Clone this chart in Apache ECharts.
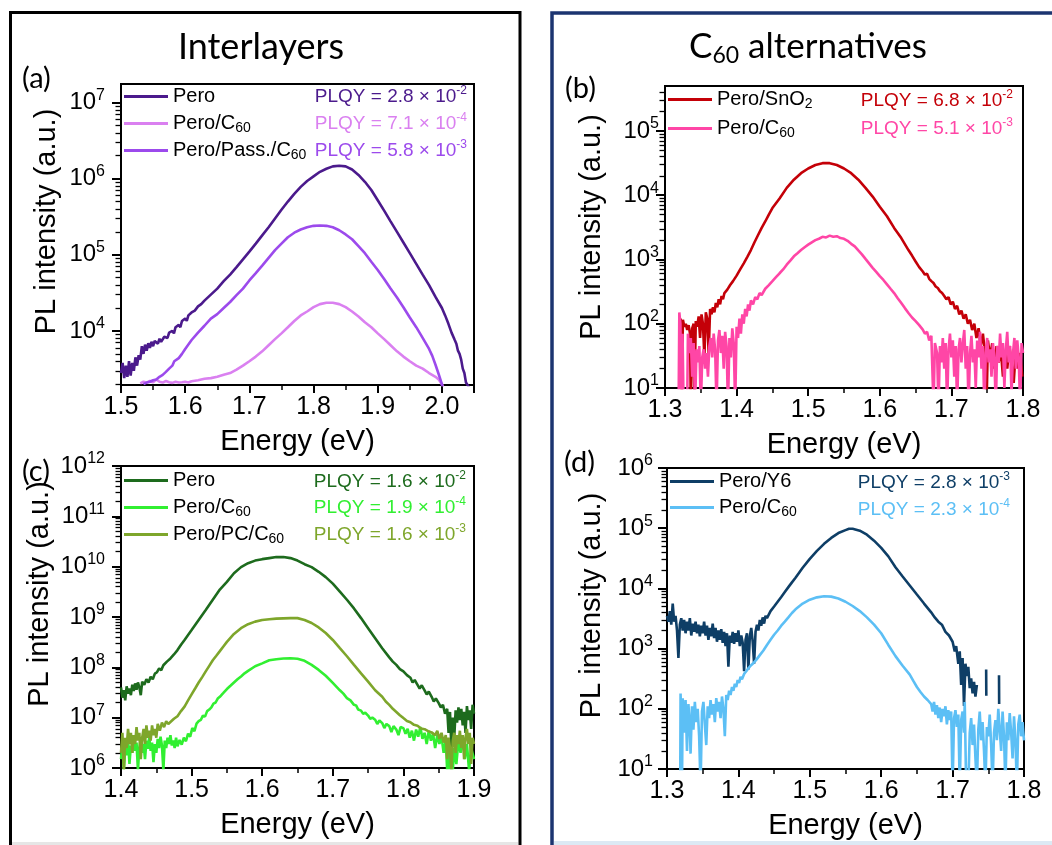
<!DOCTYPE html>
<html>
<head>
<meta charset="utf-8">
<script src="https://cdn.jsdelivr.net/npm/echarts@6.0.0/dist/echarts.min.js"></script>
<style>
  html, body { margin: 0; padding: 0; background: #fff; }
  #chart { width: 1052px; height: 845px; }
</style>
</head>
<body>
<div id="chart"></div>
<script>
// ---- tick values ----
var xTicksA = [1.5, 1.6, 1.7, 1.8, 1.9, 2.0];
var xTicksB = [1.3, 1.4, 1.5, 1.6, 1.7, 1.8];
var xTicksC = [1.4, 1.5, 1.6, 1.7, 1.8, 1.9];
var yTicksA = [1e4, 1e5, 1e6, 1e7];
var yTicksB = [1e1, 1e2, 1e3, 1e4, 1e5];
var yTicksC = [1e6, 1e7, 1e8, 1e9, 1e10, 1e11, 1e12];
var yTicksD = [1e1, 1e2, 1e3, 1e4, 1e5, 1e6];

// ---- (a) Interlayers ----
var aPero = [[1.500,2.8e3],[1.5025,3.8e3],[1.505,2.4e3],[1.5075,3.5e3],[1.510,2.5e3],[1.5125,4.0e3],[1.515,2.6e3],[1.5175,3.8e3],[1.520,3.0e3],[1.5225,4.5e3],[1.525,3.5e3],[1.5275,4.8e3],[1.530,4.2e3],[1.5325,6.3e3],[1.535,5.0e3],[1.5375,6.6e3],[1.540,5.5e3],[1.5425,6.9e3],[1.545,6.0e3],[1.5475,7.2e3],[1.550,6.3e3],[1.5525,7.4e3],[1.555,7.6e3],[1.5575,6.8e3],[1.560,7.9e3],[1.5625,7.2e3],[1.565,7.4e3],[1.5675,8.4e3],[1.570,8.9e3],[1.5725,8.1e3],[1.575,9.5e3],[1.5775,9.0e3],[1.580,1.0e4],[1.5825,9.3e3],[1.585,1.12e4],[1.5875,1.06e4],[1.590,1.2e4],[1.5925,1.12e4],[1.595,1.35e4],[1.5975,1.3e4],[1.600,1.45e4],[1.6025,1.36e4],[1.605,1.6e4],[1.6075,1.55e4],[1.610,1.75e4],[1.615,1.85e4],[1.620,2.1e4],[1.625,2.25e4],[1.630,2.5e4],[1.640,3.0e4],[1.650,3.6e4],[1.660,4.5e4],[1.670,5.5e4],[1.680,6.9e4],[1.690,8.7e4],[1.700,1.1e5],[1.710,1.4e5],[1.720,1.8e5],[1.730,2.3e5],[1.740,3.0e5],[1.750,3.9e5],[1.760,5.0e5],[1.770,6.3e5],[1.780,7.8e5],[1.790,9.3e5],[1.800,1.07e6],[1.810,1.23e6],[1.820,1.35e6],[1.830,1.45e6],[1.840,1.48e6],[1.850,1.45e6],[1.860,1.32e6],[1.870,1.12e6],[1.880,9.1e5],[1.890,7.1e5],[1.900,5.2e5],[1.910,3.8e5],[1.920,2.75e5],[1.930,2.0e5],[1.940,1.45e5],[1.950,1.05e5],[1.960,7.6e4],[1.970,5.5e4],[1.980,4.0e4],[1.990,2.8e4],[2.000,2.0e4],[2.005,1.6e4],[2.010,1.25e4],[2.015,9.5e3],[2.020,7.6e3],[2.0225,6.8e3],[2.025,5.5e3],[2.0275,5.0e3],[2.030,4.2e3],[2.0325,3.2e3],[2.035,2.8e3],[2.0375,2.1e3],[2.040,2.2e3],[2.0425,1.8e3],[2.045,1.5e3]];
var aPeroC60 = [[1.530,2.05e3],[1.535,2.15e3],[1.540,2.1e3],[1.545,2.2e3],[1.550,2.12e3],[1.555,2.3e3],[1.560,2.15e3],[1.565,2.1e3],[1.570,2.2e3],[1.575,2.12e3],[1.580,2.08e3],[1.585,2.15e3],[1.590,2.1e3],[1.595,2.12e3],[1.600,2.15e3],[1.605,2.1e3],[1.610,2.18e3],[1.620,2.25e3],[1.630,2.35e3],[1.640,2.4e3],[1.650,2.5e3],[1.660,2.65e3],[1.670,2.8e3],[1.680,3.1e3],[1.690,3.5e3],[1.700,4.0e3],[1.710,4.6e3],[1.720,5.4e3],[1.730,6.5e3],[1.740,7.8e3],[1.750,9.3e3],[1.760,1.12e4],[1.770,1.35e4],[1.780,1.6e4],[1.790,1.8e4],[1.800,2.05e4],[1.810,2.25e4],[1.820,2.35e4],[1.830,2.35e4],[1.840,2.25e4],[1.850,2.05e4],[1.860,1.8e4],[1.870,1.55e4],[1.880,1.3e4],[1.890,1.12e4],[1.900,9.3e3],[1.910,7.8e3],[1.920,6.5e3],[1.930,5.4e3],[1.940,4.6e3],[1.950,4.0e3],[1.960,3.5e3],[1.970,3.2e3],[1.980,2.8e3],[1.990,2.5e3],[1.995,2.3e3],[2.000,2.0e3],[2.003,1.7e3]];
var aPeroPassC60 = [[1.535,2.0e3],[1.540,2.1e3],[1.545,2.15e3],[1.550,2.25e3],[1.555,2.3e3],[1.560,2.5e3],[1.565,2.65e3],[1.570,2.9e3],[1.575,3.2e3],[1.580,3.5e3],[1.583,4.0e3],[1.585,3.8e3],[1.590,4.4e3],[1.595,5.0e3],[1.600,5.8e3],[1.610,7.6e3],[1.620,9.5e3],[1.630,1.17e4],[1.640,1.45e4],[1.650,1.66e4],[1.660,2.0e4],[1.670,2.4e4],[1.680,2.95e4],[1.690,3.6e4],[1.700,4.6e4],[1.710,5.75e4],[1.720,7.2e4],[1.730,9.1e4],[1.740,1.15e5],[1.750,1.4e5],[1.760,1.7e5],[1.770,1.95e5],[1.780,2.15e5],[1.790,2.3e5],[1.800,2.4e5],[1.810,2.43e5],[1.820,2.4e5],[1.830,2.3e5],[1.840,2.1e5],[1.850,1.85e5],[1.860,1.6e5],[1.870,1.3e5],[1.880,1.05e5],[1.890,8.1e4],[1.900,6.3e4],[1.910,4.8e4],[1.920,3.6e4],[1.930,2.75e4],[1.940,2.05e4],[1.950,1.5e4],[1.960,1.12e4],[1.970,8.1e3],[1.980,5.8e3],[1.985,4.7e3],[1.990,3.6e3],[1.995,2.7e3],[2.000,2.0e3],[2.002,1.6e3]];

// ---- (b) C60 alternatives ----
var bPeroSnO2 = [[1.322,120],[1.3235,6],[1.325,115],[1.327,90],[1.329,100],[1.331,80],[1.333,95],[1.335,70],[1.336,6],[1.338,85],[1.340,100],[1.341,6],[1.343,110],[1.345,90],[1.347,130],[1.349,60],[1.351,140],[1.353,100],[1.355,30],[1.357,150],[1.359,120],[1.361,35],[1.363,170],[1.365,140],[1.367,180],[1.369,150],[1.371,210],[1.373,180],[1.375,240],[1.377,200],[1.379,270],[1.381,240],[1.383,300],[1.385,280],[1.387,340],[1.389,320],[1.391,400],[1.393,380],[1.395,460],[1.397,440],[1.400,560],[1.405,700],[1.410,870],[1.415,1.1e3],[1.420,1.4e3],[1.425,1.85e3],[1.430,2.4e3],[1.435,3.1e3],[1.440,3.9e3],[1.445,5.0e3],[1.450,6.3e3],[1.455,7.5e3],[1.460,8.9e3],[1.470,1.3e4],[1.480,1.74e4],[1.490,2.2e4],[1.500,2.6e4],[1.510,2.95e4],[1.520,3.15e4],[1.530,3.15e4],[1.540,2.95e4],[1.550,2.6e4],[1.560,2.2e4],[1.570,1.74e4],[1.580,1.3e4],[1.590,9.5e3],[1.600,6.6e3],[1.610,4.7e3],[1.620,3.1e3],[1.630,2.15e3],[1.640,1.4e3],[1.645,1.15e3],[1.650,930],[1.655,760],[1.660,650],[1.663,580],[1.666,600],[1.669,500],[1.672,460],[1.675,430],[1.678,380],[1.681,360],[1.684,320],[1.687,300],[1.690,270],[1.693,240],[1.696,260],[1.699,200],[1.702,220],[1.705,170],[1.708,190],[1.711,140],[1.714,160],[1.717,120],[1.720,140],[1.723,100],[1.726,115],[1.729,80],[1.732,100],[1.735,60],[1.738,85],[1.741,45],[1.744,70],[1.747,35],[1.749,5],[1.751,55],[1.754,30],[1.757,50],[1.760,20],[1.763,45],[1.766,25],[1.769,40],[1.772,15],[1.775,35],[1.778,20],[1.781,45],[1.784,25],[1.787,12],[1.790,40],[1.793,20],[1.796,35],[1.799,15]];
var bPeroC60 = [[1.319,5],[1.320,150],[1.3215,100],[1.323,5],[1.3245,70],[1.326,5],[1.331,5],[1.332,70],[1.334,35],[1.336,60],[1.338,15],[1.340,50],[1.342,5],[1.344,40],[1.346,25],[1.348,45],[1.350,5],[1.352,30],[1.354,40],[1.356,20],[1.358,35],[1.360,15],[1.362,45],[1.364,60],[1.366,30],[1.368,70],[1.370,40],[1.372,5],[1.374,55],[1.376,80],[1.378,35],[1.380,65],[1.382,20],[1.384,75],[1.386,45],[1.388,5],[1.390,60],[1.392,30],[1.394,85],[1.396,50],[1.398,5],[1.400,90],[1.402,60],[1.404,120],[1.406,70],[1.408,140],[1.410,100],[1.412,170],[1.414,130],[1.416,200],[1.418,160],[1.420,230],[1.423,200],[1.426,260],[1.429,240],[1.432,300],[1.435,280],[1.440,350],[1.445,400],[1.450,460],[1.455,530],[1.460,610],[1.465,700],[1.470,830],[1.475,960],[1.480,1.12e3],[1.485,1.25e3],[1.490,1.4e3],[1.495,1.55e3],[1.500,1.7e3],[1.505,1.85e3],[1.510,2.0e3],[1.515,2.1e3],[1.520,2.25e3],[1.525,2.2e3],[1.530,2.35e3],[1.535,2.25e3],[1.540,2.3e3],[1.545,2.15e3],[1.550,2.1e3],[1.555,1.95e3],[1.560,1.75e3],[1.565,1.6e3],[1.570,1.38e3],[1.575,1.2e3],[1.580,1.02e3],[1.585,870],[1.590,740],[1.595,640],[1.600,550],[1.605,480],[1.610,410],[1.615,350],[1.620,300],[1.625,250],[1.630,210],[1.635,175],[1.640,147],[1.645,125],[1.650,110],[1.655,95],[1.660,81],[1.663,70],[1.666,75],[1.669,55],[1.672,65],[1.675,5],[1.677,50],[1.680,35],[1.682,5],[1.684,45],[1.686,25],[1.688,60],[1.690,20],[1.692,50],[1.694,5],[1.696,40],[1.698,70],[1.700,30],[1.702,55],[1.704,15],[1.706,45],[1.708,5],[1.710,40],[1.712,60],[1.714,25],[1.716,50],[1.718,80],[1.720,20],[1.722,45],[1.724,5],[1.726,35],[1.728,65],[1.730,25],[1.732,40],[1.734,10],[1.736,55],[1.738,30],[1.740,75],[1.742,20],[1.744,45],[1.746,5],[1.748,35],[1.750,60],[1.752,25],[1.754,40],[1.756,15],[1.758,50],[1.760,30],[1.762,5],[1.764,45],[1.766,25],[1.768,70],[1.770,30],[1.772,50],[1.774,10],[1.776,40],[1.778,75],[1.780,25],[1.782,45],[1.784,8],[1.786,35],[1.788,60],[1.790,20],[1.792,55],[1.794,30],[1.796,5],[1.798,50],[1.800,35]];

// ---- (c) Interlayers ----
var cPero = [[1.400,4.0e7],[1.402,2.5e7],[1.404,3.5e7],[1.406,2.2e7],[1.408,4.2e7],[1.410,3.0e7],[1.412,3.8e7],[1.414,2.8e7],[1.416,4.5e7],[1.418,3.4e7],[1.420,4.8e7],[1.422,3.6e7],[1.424,5.0e7],[1.426,4.0e7],[1.428,2.8e7],[1.430,5.2e7],[1.433,4.5e7],[1.436,5.8e7],[1.439,5.0e7],[1.442,6.5e7],[1.445,5.8e7],[1.448,7.5e7],[1.451,8.0e7],[1.454,9.5e7],[1.457,8.8e7],[1.460,1.1e8],[1.465,1.3e8],[1.470,1.5e8],[1.475,1.8e8],[1.480,2.2e8],[1.485,2.8e8],[1.490,3.5e8],[1.500,5.5e8],[1.510,8.7e8],[1.520,1.38e9],[1.530,2.2e9],[1.540,3.5e9],[1.550,5.0e9],[1.560,7.4e9],[1.570,9.8e9],[1.580,1.17e10],[1.590,1.32e10],[1.600,1.41e10],[1.610,1.48e10],[1.620,1.55e10],[1.630,1.55e10],[1.640,1.48e10],[1.650,1.32e10],[1.660,1.12e10],[1.670,9.8e9],[1.680,7.9e9],[1.690,6.2e9],[1.700,4.6e9],[1.710,3.2e9],[1.720,2.2e9],[1.730,1.48e9],[1.740,9.5e8],[1.750,6.0e8],[1.760,3.8e8],[1.770,2.4e8],[1.780,1.58e8],[1.785,1.3e8],[1.790,1.12e8],[1.795,9.2e7],[1.800,8.3e7],[1.805,7.0e7],[1.810,6.2e7],[1.813,5.0e7],[1.816,5.6e7],[1.820,4.5e7],[1.823,3.8e7],[1.826,4.4e7],[1.830,3.5e7],[1.833,2.9e7],[1.836,3.3e7],[1.840,2.6e7],[1.843,2.1e7],[1.846,2.4e7],[1.850,1.95e7],[1.853,1.6e7],[1.856,1.8e7],[1.859,1.2e7],[1.862,1.5e7],[1.864,5e6],[1.866,1.3e7],[1.868,2.5e6],[1.870,1.0e7],[1.872,4e6],[1.874,1.4e7],[1.876,8e6],[1.878,1.6e7],[1.880,9e6],[1.882,1.5e7],[1.884,7e6],[1.886,1.3e7],[1.888,5e6],[1.890,1.7e7],[1.892,9e6],[1.894,1.4e7],[1.896,6e6],[1.898,1.8e7],[1.900,1.2e7]];
var cPeroC60 = [[1.400,1.5e6],[1.402,3e6],[1.404,0.9e6],[1.406,2.5e6],[1.408,1.8e6],[1.410,3.5e6],[1.412,1.2e6],[1.414,2.8e6],[1.416,2e6],[1.418,4e6],[1.420,2.2e6],[1.422,3.2e6],[1.424,0.9e6],[1.426,2.6e6],[1.428,3.8e6],[1.430,2e6],[1.432,3e6],[1.434,1.5e6],[1.436,3.5e6],[1.438,2.4e6],[1.440,4e6],[1.442,2.2e6],[1.444,3.2e6],[1.446,1.3e6],[1.448,3e6],[1.450,2e6],[1.452,3.8e6],[1.454,2.5e6],[1.456,4.2e6],[1.458,2.8e6],[1.460,0.9e6],[1.462,3.5e6],[1.464,2.5e6],[1.466,4e6],[1.468,3e6],[1.470,4.5e6],[1.472,2.8e6],[1.474,3.5e6],[1.476,2.5e6],[1.478,4e6],[1.480,2.7e6],[1.483,3.6e6],[1.486,2.9e6],[1.489,4.0e6],[1.492,3.4e6],[1.495,4.8e6],[1.498,4.2e6],[1.501,6.2e6],[1.504,5.4e6],[1.507,7.6e6],[1.510,8.5e6],[1.513,9.0e6],[1.516,1.1e7],[1.519,1.05e7],[1.522,1.35e7],[1.525,1.45e7],[1.528,1.6e7],[1.531,1.9e7],[1.534,2.0e7],[1.537,2.4e7],[1.540,2.6e7],[1.545,3.1e7],[1.550,3.7e7],[1.555,4.3e7],[1.560,5.0e7],[1.565,5.8e7],[1.570,6.6e7],[1.575,7.6e7],[1.580,8.5e7],[1.590,1.05e8],[1.600,1.2e8],[1.610,1.38e8],[1.620,1.45e8],[1.630,1.5e8],[1.640,1.52e8],[1.650,1.48e8],[1.660,1.35e8],[1.670,1.12e8],[1.680,8.9e7],[1.690,6.8e7],[1.700,4.9e7],[1.710,3.5e7],[1.715,3.0e7],[1.720,2.45e7],[1.725,2.2e7],[1.730,1.8e7],[1.733,1.75e7],[1.736,1.45e7],[1.740,1.38e7],[1.743,1.2e7],[1.746,1.25e7],[1.750,1.1e7],[1.753,9.5e6],[1.756,1.0e7],[1.760,9.1e6],[1.763,7.5e6],[1.766,8.8e6],[1.770,7.8e6],[1.773,6.2e6],[1.776,7.5e6],[1.780,6.8e6],[1.783,5.2e6],[1.786,6.8e6],[1.790,5.8e6],[1.793,4.5e6],[1.796,6.5e6],[1.800,6.2e6],[1.803,4.8e6],[1.806,6e6],[1.809,4e6],[1.812,5.5e6],[1.815,3.5e6],[1.818,5.8e6],[1.821,4.2e6],[1.824,6.5e6],[1.827,3.8e6],[1.830,5e6],[1.833,3e6],[1.836,5.5e6],[1.839,3.5e6],[1.842,4.8e6],[1.845,2.5e6],[1.848,4.5e6],[1.851,3e6],[1.854,4.2e6],[1.857,2e6],[1.860,3.5e6],[1.862,0.9e6],[1.864,2.5e6],[1.866,0.8e6],[1.868,1.8e6],[1.870,0.9e6],[1.872,2.5e6],[1.875,1.2e6],[1.878,3.5e6],[1.881,2e6],[1.884,4e6],[1.887,1.5e6],[1.890,3e6],[1.893,0.9e6],[1.896,2.5e6],[1.900,1.5e6]];
var cPeroPCC60 = [[1.400,2e6],[1.402,5e6],[1.404,0.9e6],[1.406,4e6],[1.408,2.5e6],[1.410,6e6],[1.412,3e6],[1.414,5e6],[1.416,2e6],[1.418,4.5e6],[1.420,3e6],[1.422,6.5e6],[1.424,3.5e6],[1.426,5e6],[1.428,1.5e6],[1.430,4e6],[1.432,6e6],[1.434,3e6],[1.436,7e6],[1.438,4e6],[1.440,5.5e6],[1.442,3.5e6],[1.444,7e6],[1.446,4.5e6],[1.448,6e6],[1.450,4e6],[1.452,7.5e6],[1.455,5.5e6],[1.458,8e6],[1.461,6.5e6],[1.464,8.5e6],[1.467,7.5e6],[1.470,8.2e6],[1.475,9.5e6],[1.480,1.07e7],[1.485,1.35e7],[1.490,1.66e7],[1.495,2.2e7],[1.500,2.9e7],[1.505,3.8e7],[1.510,5.0e7],[1.515,6.4e7],[1.520,8.3e7],[1.525,1.07e8],[1.530,1.38e8],[1.535,1.7e8],[1.540,2.1e8],[1.545,2.6e8],[1.550,3.2e8],[1.560,4.6e8],[1.570,6.0e8],[1.580,7.2e8],[1.590,8.1e8],[1.600,8.7e8],[1.610,9.0e8],[1.620,9.3e8],[1.630,9.4e8],[1.640,9.5e8],[1.650,9.5e8],[1.660,8.7e8],[1.670,7.6e8],[1.680,6.2e8],[1.690,4.8e8],[1.700,3.5e8],[1.710,2.4e8],[1.720,1.66e8],[1.730,1.12e8],[1.740,7.6e7],[1.750,5.2e7],[1.760,3.5e7],[1.770,2.6e7],[1.775,2.1e7],[1.780,1.8e7],[1.785,1.5e7],[1.790,1.3e7],[1.795,1.12e7],[1.800,9.8e6],[1.805,8.6e6],[1.810,8.1e6],[1.815,7.2e6],[1.820,6.9e6],[1.825,6.1e6],[1.830,5.9e6],[1.835,5.4e6],[1.840,5.1e6],[1.845,4.5e6],[1.848,5.5e6],[1.851,3.8e6],[1.854,5e6],[1.857,3.2e6],[1.860,4.5e6],[1.862,1.5e6],[1.864,4e6],[1.866,2.5e6],[1.868,0.9e6],[1.870,3.5e6],[1.872,5e6],[1.874,2e6],[1.876,4.5e6],[1.878,3e6],[1.880,5.5e6],[1.882,2.5e6],[1.884,4.5e6],[1.886,1.5e6],[1.888,4e6],[1.890,6e6],[1.892,3e6],[1.894,5e6],[1.896,1.2e6],[1.898,4e6],[1.900,3e6]];

// ---- (d) C60 alternatives ----
var dPeroY6 = [[1.300,3.5e3],[1.302,2.8e3],[1.304,4.2e3],[1.306,2.5e3],[1.308,5.6e3],[1.310,2.8e3],[1.312,3.5e3],[1.314,2.0e3],[1.316,700],[1.318,2.5e3],[1.320,3.2e3],[1.322,2.0e3],[1.324,3.0e3],[1.326,1.8e3],[1.328,2.8e3],[1.330,2.0e3],[1.332,3.2e3],[1.334,1.65e3],[1.336,2.6e3],[1.338,1.9e3],[1.340,2.8e3],[1.342,1.8e3],[1.344,2.5e3],[1.346,1.6e3],[1.348,2.4e3],[1.350,1.8e3],[1.352,2.8e3],[1.354,1.65e3],[1.356,2.4e3],[1.358,1.4e3],[1.360,2.2e3],[1.362,1.6e3],[1.364,2.6e3],[1.366,1.5e3],[1.368,2.2e3],[1.370,1.3e3],[1.372,2.0e3],[1.374,1.4e3],[1.376,2.1e3],[1.378,1.25e3],[1.380,1.9e3],[1.382,1.1e3],[1.384,1.8e3],[1.386,500],[1.388,1.65e3],[1.390,1.25e3],[1.392,1.9e3],[1.394,1.2e3],[1.396,1.8e3],[1.398,1.3e3],[1.400,2.0e3],[1.402,1.1e3],[1.404,1.65e3],[1.406,1.25e3],[1.408,420],[1.410,1.4e3],[1.412,1.8e3],[1.414,450],[1.416,1.6e3],[1.418,2.2e3],[1.420,1.3e3],[1.422,560],[1.424,1.9e3],[1.426,2.5e3],[1.428,2.0e3],[1.430,3.0e3],[1.432,2.4e3],[1.434,3.3e3],[1.436,2.6e3],[1.438,3.5e3],[1.440,3.2e3],[1.445,4.2e3],[1.450,5.0e3],[1.455,6.0e3],[1.460,7.2e3],[1.465,8.7e3],[1.470,1.05e4],[1.475,1.26e4],[1.480,1.5e4],[1.490,2.2e4],[1.500,3.1e4],[1.510,4.2e4],[1.520,5.5e4],[1.530,6.9e4],[1.540,8.3e4],[1.550,9.3e4],[1.555,9.8e4],[1.560,9.8e4],[1.570,9.1e4],[1.580,7.8e4],[1.590,6.2e4],[1.600,4.7e4],[1.610,3.4e4],[1.620,2.25e4],[1.630,1.58e4],[1.640,1.12e4],[1.650,7.9e3],[1.660,5.6e3],[1.670,4.0e3],[1.675,3.3e3],[1.680,2.8e3],[1.685,2.5e3],[1.690,1.9e3],[1.695,1.65e3],[1.700,1.3e3],[1.703,900],[1.705,1.1e3],[1.708,560],[1.710,900],[1.712,250],[1.714,700],[1.716,112],[1.718,560],[1.720,350],[1.722,500],[1.724,220],[1.726,320],[1.728,180],[1.730,280],[1.732,160],[1.734,250],[1.735,'-'],[1.747,450],[1.7472,165],[1.748,'-'],[1.765,360],[1.7652,120]];
var dPeroC60 = [[1.3185,5],[1.319,180],[1.320,60],[1.321,5],[1.322,150],[1.324,40],[1.326,140],[1.328,20],[1.330,120],[1.332,50],[1.333,18],[1.335,110],[1.337,45],[1.339,130],[1.341,60],[1.343,100],[1.345,35],[1.347,5],[1.349,90],[1.351,130],[1.353,55],[1.355,25],[1.357,110],[1.359,70],[1.361,140],[1.363,80],[1.365,120],[1.367,60],[1.369,150],[1.371,90],[1.373,130],[1.375,70],[1.377,160],[1.379,100],[1.381,35],[1.383,170],[1.385,140],[1.387,200],[1.389,170],[1.391,230],[1.393,200],[1.395,260],[1.397,230],[1.399,300],[1.401,270],[1.403,340],[1.405,310],[1.408,380],[1.411,420],[1.414,470],[1.417,520],[1.420,560],[1.425,650],[1.430,780],[1.435,930],[1.440,1.15e3],[1.445,1.4e3],[1.450,1.7e3],[1.455,2.0e3],[1.460,2.4e3],[1.465,2.8e3],[1.470,3.3e3],[1.475,3.9e3],[1.480,4.5e3],[1.490,5.6e3],[1.500,6.5e3],[1.510,7.1e3],[1.520,7.4e3],[1.530,7.3e3],[1.540,6.8e3],[1.550,6.0e3],[1.560,5.1e3],[1.570,4.2e3],[1.580,3.3e3],[1.590,2.5e3],[1.600,1.8e3],[1.610,1.15e3],[1.620,750],[1.630,520],[1.640,370],[1.645,290],[1.650,230],[1.655,190],[1.660,160],[1.665,140],[1.670,120],[1.672,90],[1.674,130],[1.676,80],[1.678,115],[1.680,70],[1.682,105],[1.684,60],[1.686,100],[1.688,75],[1.690,110],[1.692,55],[1.694,95],[1.696,65],[1.698,90],[1.700,5],[1.702,70],[1.704,95],[1.706,50],[1.708,80],[1.710,5],[1.712,65],[1.714,90],[1.716,40],[1.717,130],[1.719,5],[1.722,5],[1.724,40],[1.726,70],[1.728,25],[1.730,55],[1.732,15],[1.734,5],[1.736,45],[1.738,90],[1.740,30],[1.742,60],[1.744,20],[1.746,5],[1.748,50],[1.750,35],[1.752,80],[1.754,25],[1.756,5],[1.758,40],[1.760,65],[1.762,30],[1.764,100],[1.766,45],[1.768,20],[1.770,90],[1.772,35],[1.774,5],[1.776,60],[1.778,30],[1.780,85],[1.782,40],[1.784,15],[1.786,75],[1.788,30],[1.790,5],[1.792,55],[1.794,80],[1.796,35],[1.798,60],[1.800,30]];

// legend names and PLQY annotations
var legendLabels = {
  a0: 'Pero', a1: 'Pero/C{sub|60}', a2: 'Pero/Pass./C{sub|60}',
  b0: 'Pero/SnO{sub|2}', b1: 'Pero/C{sub|60}',
  c0: 'Pero', c1: 'Pero/C{sub|60}', c2: 'Pero/PC/C{sub|60}',
  d0: 'Pero/Y6', d1: 'Pero/C{sub|60}'
};
var plqyA = [['2.8', '-2'], ['7.1', '-4'], ['5.8', '-3']];
var plqyB = [['6.8', '-2'], ['5.1', '-3']];
var plqyC = [['1.6', '-2'], ['1.9', '-4'], ['1.6', '-3']];
var plqyD = [['2.8', '-3'], ['2.3', '-4']];

var FONT = '"Liberation Sans", Arial, sans-serif';
var TFONT = 'Lato, "Open Sans", sans-serif';

var panels = [
  { id: 'a', grid: { left: 121, top: 84, width: 353, height: 301 }, xr: [1.5, 2.05], yr: [1950, 1.75e7],
    xt: xTicksA, yt: yTicksA, labMargin: 16, nameGap: 60, nameShift: 26,
    lines: [aPero, aPeroC60, aPeroPassC60], colors: ['#4b1a8c', '#da80f0', '#9c4aec'],
    legend: { left: 124, top: 85, gap: 4 }, plqy: plqyA, plqyX: 467, plqyY: [97, 124, 151] },
  { id: 'b', grid: { left: 665, top: 86, width: 358, height: 302 }, xr: [1.3, 1.8], yr: [10, 5e5],
    xt: xTicksB, yt: yTicksB, labMargin: 6, nameGap: 59, nameShift: 20,
    lines: [bPeroSnO2, bPeroC60], colors: ['#c40008', '#ff46a6'],
    legend: { left: 668, top: 88, gap: 6 }, plqy: plqyB, plqyX: 1013, plqyY: [101, 129] },
  { id: 'c', grid: { left: 121, top: 466, width: 353, height: 302 }, xr: [1.4, 1.9], yr: [1e6, 1e12],
    xt: xTicksC, yt: yTicksC, labMargin: 16, nameGap: 67, nameShift: 46,
    lines: [cPero, cPeroC60, cPeroPCC60], colors: ['#1d6b1d', '#31ef31', '#7ea62b'],
    legend: { left: 124, top: 469, gap: 4 }, plqy: plqyC, plqyX: 466, plqyY: [482, 508, 535] },
  { id: 'd', grid: { left: 667, top: 468, width: 357, height: 301 }, xr: [1.3, 1.8], yr: [10, 1e6],
    xt: xTicksB, yt: yTicksD, labMargin: 14, nameGap: 61, nameShift: 26,
    lines: [dPeroY6, dPeroC60], colors: ['#0e3e66', '#5cbff5'],
    legend: { left: 670, top: 470, gap: 3 }, plqy: plqyD, plqyX: 1010, plqyY: [483, 510] }
];

function near(list, v) {
  return list.some(function (t) { return Math.abs(t - v) / t < 1e-6; });
}

var grids = [], xAxes = [], yAxes = [], series = [], legends = [], graphics = [];

panels.forEach(function (p, i) {
  grids.push({ left: p.grid.left, top: p.grid.top, width: p.grid.width, height: p.grid.height,
    show: true, borderColor: '#000', borderWidth: 2 });

  xAxes.push({
    type: 'value', gridIndex: i, min: p.xr[0], max: p.xr[1], interval: 0.1, position: 'bottom',
    axisLine: { show: true, onZero: false, lineStyle: { color: '#000', width: 2 } },
    axisTick: { show: true, length: 8, lineStyle: { color: '#000', width: 2 } },
    minorTick: { show: true, splitNumber: 2, length: 5, lineStyle: { color: '#000', width: 1.5 } },
    axisLabel: { margin: 10, color: '#000', fontSize: 25, fontFamily: FONT,
      formatter: function (v) { return near(p.xt, v) ? v.toFixed(1) : ''; } },
    splitLine: { show: false }, minorSplitLine: { show: false },
    name: 'Energy (eV)', nameLocation: 'middle', nameGap: 42,
    nameTextStyle: { color: '#000', fontSize: 29, fontFamily: FONT }
  });

  yAxes.push({
    type: 'log', logBase: 10, gridIndex: i, min: p.yr[0], max: p.yr[1], position: 'left',
    axisLine: { show: true, onZero: false, lineStyle: { color: '#000', width: 2 } },
    axisTick: { show: true, length: 9, customValues: p.yt, lineStyle: { color: '#000', width: 2 } },
    minorTick: { show: true, splitNumber: 9, length: 5.5, lineStyle: { color: '#000', width: 1.3 } },
    axisLabel: {
      customValues: p.yt, margin: p.labMargin, color: '#000',
      formatter: function (v) { return '{b|10}{s|' + Math.round(Math.log10(v)) + '}'; },
      rich: {
        b: { fontSize: 24, fontFamily: FONT, color: '#000', lineHeight: 30 },
        s: { fontSize: 16, fontFamily: FONT, color: '#000', lineHeight: 16, verticalAlign: 'top' }
      }
    },
    splitLine: { show: false }, minorSplitLine: { show: false },
    name: 'PL intensity (a.u.)', nameLocation: 'middle', nameRotate: 90, nameGap: p.nameGap,
    nameTextStyle: { color: '#000', fontSize: 29, fontFamily: FONT, padding: [0, 0, 0, p.nameShift] }
  });

  var names = [];
  p.lines.forEach(function (d, k) {
    var nm = p.id + k;
    names.push(nm);
    series.push({
      name: nm, type: 'line', xAxisIndex: i, yAxisIndex: i, data: d,
      color: p.colors[k], showSymbol: false, symbol: 'none', connectNulls: false,
      lineStyle: { color: p.colors[k], width: 2.6 }, animation: false, z: 2 + k
    });
  });

  legends.push({
    left: p.legend.left, top: p.legend.top, orient: 'vertical', icon: 'rect',
    itemWidth: 44, itemHeight: 3, itemGap: p.legend.gap, padding: 0, selectedMode: false,
    data: names,
    formatter: function (n) { return legendLabels[n]; },
    textStyle: {
      color: '#000', fontSize: 20, fontFamily: FONT, lineHeight: 23,
      rich: { sub: { fontSize: 14, fontFamily: FONT, color: '#000', lineHeight: 12, verticalAlign: 'bottom' } }
    }
  });

  p.plqy.forEach(function (q, k) {
    graphics.push({
      type: 'text', x: p.plqyX, y: p.plqyY[k], silent: true,
      style: {
        text: 'PLQY = ' + q[0] + ' × 10{s|' + q[1] + '}',
        align: 'right', verticalAlign: 'middle', fill: p.colors[k],
        fontSize: 19, fontFamily: FONT, lineHeight: 24,
        rich: { s: { fontSize: 12, fontFamily: FONT, fill: p.colors[k], lineHeight: 12, verticalAlign: 'top' } }
      }
    });
  });
});

// frames, titles, panel letters
graphics.push(
  { type: 'rect', silent: true, z: -1, shape: { x: 10.5, y: 12.5, width: 509.5, height: 900 },
    style: { fill: null, stroke: '#000', lineWidth: 3 } },
  { type: 'rect', silent: true, z: -1, shape: { x: 552, y: 13, width: 600, height: 900 },
    style: { fill: null, stroke: '#1c3470', lineWidth: 3.5 } },
  { type: 'rect', silent: true, shape: { x: 12, y: 842, width: 506, height: 3 }, style: { fill: '#e6e6e6' } },
  { type: 'rect', silent: true, shape: { x: 554, y: 841, width: 498, height: 4 }, style: { fill: '#dce9f4' } },
  { type: 'text', x: 261, y: 47, silent: true,
    style: { text: 'Interlayers', align: 'center', verticalAlign: 'middle', fill: '#000', fontSize: 36, fontFamily: TFONT } },
  { type: 'text', x: 808, y: 47, silent: true,
    style: { text: 'C{sub|60} alternatives', align: 'center', verticalAlign: 'middle', fill: '#000',
      fontSize: 35, fontFamily: TFONT, lineHeight: 40,
      rich: { sub: { fontSize: 23, fontFamily: TFONT, fill: '#000', lineHeight: 20, verticalAlign: 'bottom' } } } },
  { type: 'text', x: 22, y: 79, silent: true,
    style: { text: '(a)', align: 'left', verticalAlign: 'middle', fill: '#000', fontSize: 29, fontFamily: TFONT } },
  { type: 'text', x: 565, y: 89, silent: true,
    style: { text: '(b)', align: 'left', verticalAlign: 'middle', fill: '#000', fontSize: 29, fontFamily: TFONT } },
  { type: 'text', x: 22, y: 472, silent: true,
    style: { text: '(c)', align: 'left', verticalAlign: 'middle', fill: '#000', fontSize: 29, fontFamily: TFONT } },
  { type: 'text', x: 564, y: 463, silent: true,
    style: { text: '(d)', align: 'left', verticalAlign: 'middle', fill: '#000', fontSize: 29, fontFamily: TFONT } }
);

var chart = echarts.init(document.getElementById('chart'), null, { renderer: 'canvas' });
chart.setOption({
  backgroundColor: '#fff',
  animation: false,
  grid: grids,
  xAxis: xAxes,
  yAxis: yAxes,
  legend: legends,
  series: series,
  graphic: graphics
});
</script>
</body>
</html>
